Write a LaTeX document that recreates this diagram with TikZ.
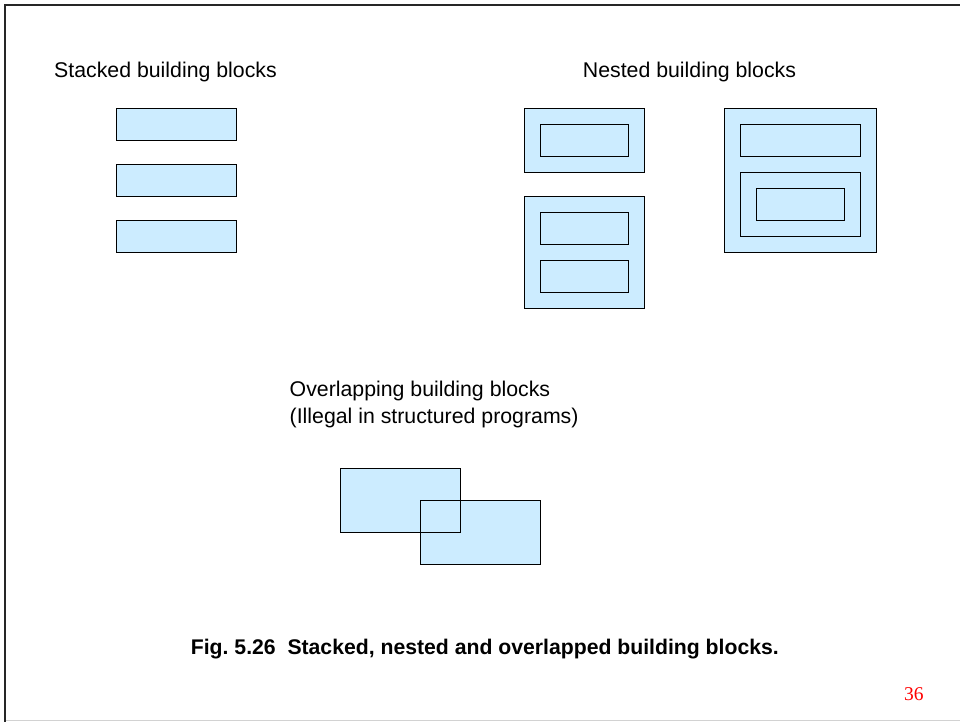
\documentclass[tikz,border=0pt]{standalone}
\usepackage{fontspec}
\setmainfont{Liberation Sans}
\newfontfamily\seriffont{Liberation Serif}
\definecolor{blkfill}{RGB}{204,236,255}
\definecolor{framegray}{RGB}{210,210,210}
\frenchspacing
\begin{document}
\begin{tikzpicture}[x=1pt,y=-1pt,
  blk/.style={draw=black, fill=blkfill, line width=1.5pt, inner sep=0pt, outer sep=0pt, anchor=north west},
  lbl/.style={anchor=base west, inner sep=0pt, font=\fontsize{21.3}{27}\selectfont},
]
\useasboundingbox (0,0) rectangle (960,722);
% frame
\draw[line width=2.5pt, black!85] (5,722) -- (5,5) -- (960,5);
\draw[line width=1pt, framegray] (6,720.7) -- (960,720.7);

% titles
\node[lbl] (tstack) at (54,77.5) {Stacked building blocks};
\node[lbl] (tnest) at (582.7,77.3) {Nested building blocks};
\node[lbl] (tover1) at (289.5,396) {Overlapping building blocks};
\node[lbl] (tover2) at (289.5,423.3) {(Illegal in structured programs)};

% stacked
\node[blk, minimum width=120pt, minimum height=32pt] (s1) at (116.5,108.5) {};
\node[blk, minimum width=120pt, minimum height=32pt] (s2) at (116.5,164.5) {};
\node[blk, minimum width=120pt, minimum height=32pt] (s3) at (116.5,220.5) {};

% nested A
\node[blk, minimum width=120pt, minimum height=64pt] (na) at (524.5,108.5) {};
\node[blk, minimum width=88pt, minimum height=32pt] (na1) at (540.5,124.5) {};
% nested B
\node[blk, minimum width=120pt, minimum height=112pt] (nb) at (524.5,196.5) {};
\node[blk, minimum width=88pt, minimum height=32pt] (nb1) at (540.5,212.5) {};
\node[blk, minimum width=88pt, minimum height=32pt] (nb2) at (540.5,260.5) {};
% nested C
\node[blk, minimum width=152pt, minimum height=144pt] (nc) at (724.5,108.5) {};
\node[blk, minimum width=120pt, minimum height=32pt] (nc1) at (740.5,124.5) {};
\node[blk, minimum width=120pt, minimum height=64pt] (nc2) at (740.5,172.5) {};
\node[blk, minimum width=88pt, minimum height=32pt] (nc3) at (756.5,188.5) {};

% overlapping
\node[blk, minimum width=120pt, minimum height=64pt] (o1) at (340.5,468.5) {};
\node[blk, minimum width=120pt, minimum height=64pt] (o2) at (420.5,500.5) {};
\draw[line width=1.5pt] (o1.south west) rectangle (o1.north east);

% caption
\node[anchor=base west, inner sep=0pt, font=\fontsize{21.2}{25}\selectfont\bfseries] (cap) at (190.7,654.3) {Fig. 5.26\ \ Stacked, nested and overlapped building blocks.};
\node[anchor=base west, inner sep=0pt, text=red, font=\fontsize{19.5}{23}\selectfont\seriffont] (pg) at (904,700) {36};
\end{tikzpicture}
\end{document}
